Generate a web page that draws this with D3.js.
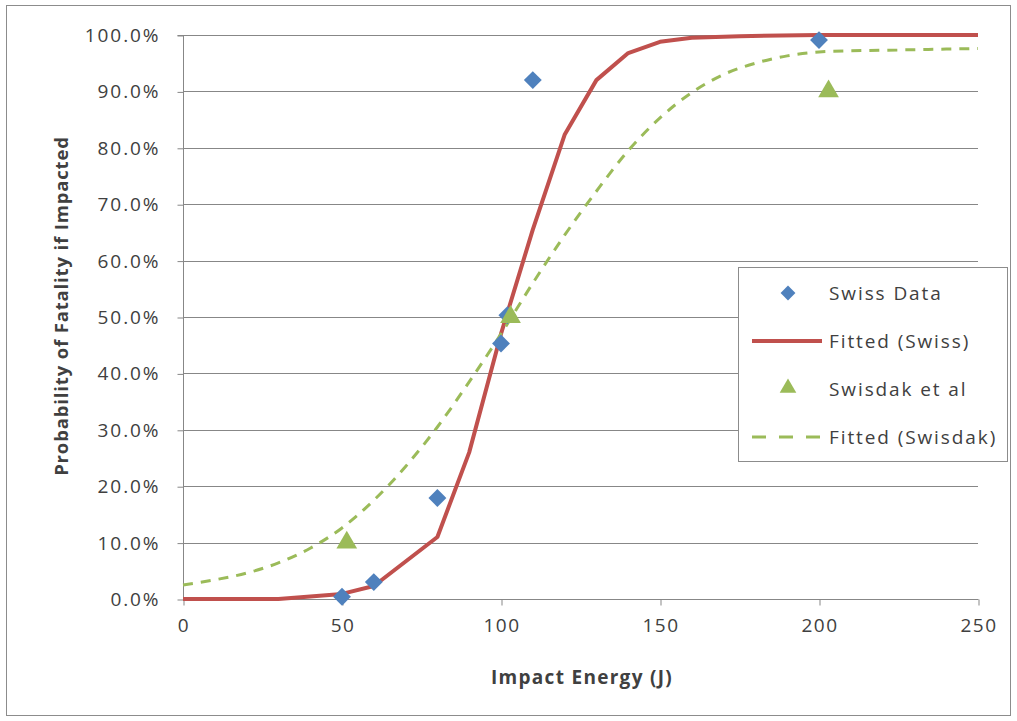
<!DOCTYPE html>
<html>
<head>
<meta charset="utf-8">
<script src="https://cdn.jsdelivr.net/npm/d3@7"></script>
<style>
  body { margin: 0; background: #fff; }
  svg text { font-family: "Open Sans", "Noto Sans", sans-serif; fill: #404040; }
</style>
</head>
<body>
<svg id="chart" width="1017" height="721"></svg>
<script>
// Observed fatality data (impact energy J, probability %)
const swissX = [50, 60, 80, 100, 102, 110, 200];
const swissY = [0.4, 3.0, 17.9, 45.3, 50.3, 92.0, 99.1];
const swisdakX = [51.5, 103, 203];
const swisdakY = [10.0, 50.0, 90.0];

// Fitted curve for the Swiss data
const fitSwissX = [0, 30, 50, 60, 80, 90, 100, 110, 120, 130, 140, 150, 160, 175, 200, 250];
const fitSwissY = [0, 0, 0.9, 2.3, 11.0, 26.0, 47.0, 65.5, 82.3, 92.0, 96.8, 98.8, 99.5, 99.8, 100, 100];

// Fitted curve for Swisdak et al
const fitSwisdakX = [0, 10, 20, 30, 40, 50, 60, 70, 80, 90, 100, 110, 120, 130, 140, 150, 160, 170, 180, 190, 200, 210, 220, 230, 240, 250];
const fitSwisdakY = [2.5, 3.4, 4.6, 6.4, 9.0, 12.6, 17.5, 23.5, 30.5, 38.5, 47.0, 56.0, 64.5, 72.3, 79.5, 85.3, 89.8, 93.0, 95.0, 96.3, 97.0, 97.2, 97.3, 97.4, 97.5, 97.6];

const xTicks = [0, 50, 100, 150, 200, 250];
const yTicks = [0, 10, 20, 30, 40, 50, 60, 70, 80, 90, 100];

const legendLabels = ["Swiss Data", "Fitted (Swiss)", "Swisdak et al", "Fitted (Swisdak)"];

const blue = "#4F81BD", red = "#C0504D", green = "#9BBB59", grid = "#878787";

const svg = d3.select("#chart");

// outer chart border
svg.append("rect").attr("x", 6.5).attr("y", 5.5).attr("width", 1004).attr("height", 710)
  .attr("fill", "#fff").attr("stroke", "#8c8c8c").attr("stroke-width", 1);

const x = d3.scaleLinear().domain([0, 250]).range([183, 978]);
const y = d3.scaleLinear().domain([0, 100]).range([599, 35]);

// horizontal gridlines
svg.append("g").selectAll("line").data(yTicks.filter(d => d > 0)).join("line")
  .attr("x1", x(0)).attr("x2", x(250))
  .attr("y1", d => Math.round(y(d)) + 0.5).attr("y2", d => Math.round(y(d)) + 0.5)
  .attr("stroke", grid).attr("stroke-width", 1);

// y axis
const yAxis = d3.axisLeft(y).tickValues(yTicks).tickSize(6).tickPadding(19)
  .tickFormat(d => d3.format(".1f")(d) + "%");
const gy = svg.append("g").attr("transform", `translate(${x(0) + 0.5},0.5)`).call(yAxis);
gy.select(".domain").attr("stroke", grid).attr("d", `M-6,${y(100)}H0V${y(0)}`);
gy.selectAll(".tick line").attr("stroke", grid);
gy.selectAll(".tick text").attr("font-size", 19).attr("fill", "#404040")
  .attr("letter-spacing", "1.9px").attr("dx", "1.9")
  .attr("font-family", "'Open Sans', sans-serif");

// x axis
const xAxis = d3.axisBottom(x).tickValues(xTicks).tickSize(6).tickPadding(13);
const gx = svg.append("g").attr("transform", `translate(0.5,${Math.round(y(0)) + 0.5})`).call(xAxis);
gx.select(".domain").attr("stroke", grid).attr("d", `M${x(0)},0H${x(250)}`);
gx.selectAll(".tick line").attr("stroke", grid);
gx.selectAll(".tick text").attr("font-size", 19).attr("fill", "#404040")
  .attr("letter-spacing", "1.5px")
  .attr("font-family", "'Open Sans', sans-serif");

// axis titles
svg.append("text").attr("x", 582).attr("y", 684).attr("text-anchor", "middle")
  .attr("font-size", 19).attr("font-weight", "bold").attr("letter-spacing", "1.3px")
  .text("Impact Energy (J)");
svg.append("text").attr("transform", "translate(68,306) rotate(-90)").attr("text-anchor", "middle")
  .attr("font-size", 18.5).attr("font-weight", "bold").attr("letter-spacing", "0.85px")
  .text("Probability of Fatality if Impacted");

// fitted curves
const lineSwiss = d3.line().x((d, i) => x(fitSwissX[i])).y(d => y(d));
svg.append("path").datum(fitSwissY).attr("d", lineSwiss)
  .attr("fill", "none").attr("stroke", red).attr("stroke-width", 4).attr("stroke-linejoin", "round");

const lineSwisdak = d3.line().x((d, i) => x(fitSwisdakX[i])).y(d => y(d)).curve(d3.curveMonotoneX);
svg.append("path").datum(fitSwisdakY).attr("d", lineSwisdak)
  .attr("fill", "none").attr("stroke", green).attr("stroke-width", 3).attr("stroke-dasharray", "10,8");

// markers
const diamond = d3.symbol().type(d3.symbolSquare).size(160);
const triangle = d3.symbol().type(d3.symbolTriangle).size(185);

svg.append("g").selectAll("path").data(swissY).join("path")
  .attr("d", diamond())
  .attr("transform", (d, i) => `translate(${x(swissX[i])},${y(d)}) rotate(45)`)
  .attr("fill", blue);

svg.append("g").selectAll("path").data(swisdakY).join("path")
  .attr("d", triangle())
  .attr("transform", (d, i) => `translate(${x(swisdakX[i])},${y(d)})`)
  .attr("fill", green);

// legend
const lg = svg.append("g");
lg.append("rect").attr("x", 738.5).attr("y", 267.5).attr("width", 269).attr("height", 194)
  .attr("fill", "#fff").attr("stroke", "#8c8c8c");
const rowY = [293, 341, 389, 437];
legendLabels.forEach((lab, i) => {
  const cy = rowY[i];
  if (i === 0) {
    lg.append("path").attr("d", d3.symbol().type(d3.symbolSquare).size(110)())
      .attr("transform", `translate(788,${cy}) rotate(45)`).attr("fill", blue);
  } else if (i === 1) {
    lg.append("line").attr("x1", 752).attr("x2", 822).attr("y1", cy).attr("y2", cy)
      .attr("stroke", red).attr("stroke-width", 4);
  } else if (i === 2) {
    lg.append("path").attr("d", d3.symbol().type(d3.symbolTriangle).size(120)())
      .attr("transform", `translate(788,${cy - 1})`).attr("fill", green);
  } else {
    lg.append("line").attr("x1", 752).attr("x2", 822).attr("y1", cy).attr("y2", cy)
      .attr("stroke", green).attr("stroke-width", 3).attr("stroke-dasharray", "14,13");
  }
  lg.append("text").attr("x", 829).attr("y", cy + 7).attr("font-size", 19)
    .attr("letter-spacing", "1.9px").text(lab);
});
</script>
</body>
</html>
